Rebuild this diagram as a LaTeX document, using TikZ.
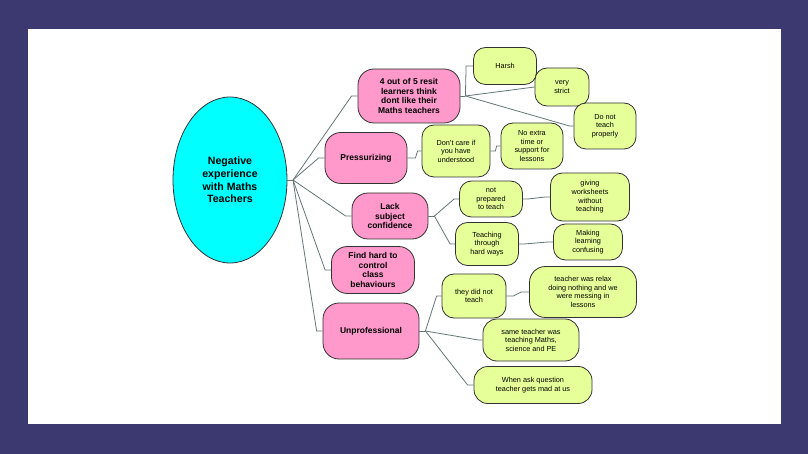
\documentclass[tikz,border=0pt]{standalone}
\usepackage{fontspec}
\setmainfont{Liberation Sans}
\usetikzlibrary{shapes.geometric}
\definecolor{navy}{RGB}{59,57,112}
\definecolor{pinkc}{RGB}{255,153,204}
\definecolor{greenc}{RGB}{230,255,153}
\definecolor{cyanc}{RGB}{0,255,255}
\definecolor{linec}{RGB}{100,118,118}
\definecolor{edgec}{RGB}{50,50,50}
\begin{document}
\begin{tikzpicture}[x=1pt,y=-1pt,
  pinkbox/.style={draw=edgec, line width=0.8pt, fill=pinkc, rounded corners=16pt, font=\bfseries\fontsize{8.5}{9.8}\selectfont, align=center, inner sep=0pt},
  greenbox/.style={draw=edgec, line width=0.8pt, fill=greenc, rounded corners=12pt, font=\fontsize{7.3}{8.6}\selectfont, align=center, inner sep=0pt},
  conn/.style={draw=linec, line width=0.8pt}]
\fill[navy] (0,0) rectangle (808,454);
\fill[white] (28,29) rectangle (781,424);
\useasboundingbox (0,0) rectangle (808,454);

\node[ellipse, draw=edgec, line width=0.8pt, fill=cyanc, minimum width=114pt, minimum height=166pt, inner sep=0pt, align=center, font=\bfseries\fontsize{10.6}{12.8}\selectfont] (ell) at (230,180) {Negative\\experience\\with Maths\\Teachers};
\coordinate (hub) at (293,180);

\node[pinkbox, minimum width=102pt, minimum height=54pt] (p1) at (409,96) {4 out of 5 resit\\learners think\\dont like their\\Maths teachers};
\node[pinkbox, minimum width=82pt, minimum height=51pt] (p2) at (366,158) {Pressurizing};
\node[pinkbox, minimum width=76pt, minimum height=46pt] (p3) at (390,216) {Lack\\subject\\confidence};
\node[pinkbox, minimum width=83pt, minimum height=47pt] (p4) at (373,270) {Find hard to\\control\\class\\behaviours};
\node[pinkbox, minimum width=96pt, minimum height=56pt] (p5) at (371,331) {Unprofessional};

\node[greenbox, minimum width=63pt, minimum height=37pt] (harsh) at (505,66) {Harsh};
\node[greenbox, minimum width=54pt, minimum height=38pt] (vs) at (562,87) {very\\strict};
\node[greenbox, minimum width=62pt, minimum height=46pt] (dn) at (605,126) {Do not\\teach\\properly};
\node[greenbox, minimum width=68pt, minimum height=52pt] (dc) at (456,151) {Don't care if\\you have\\understood};
\node[greenbox, minimum width=62pt, minimum height=46pt] (ne) at (532,146) {No extra\\time or\\support for\\lessons};
\node[greenbox, minimum width=63pt, minimum height=36pt] (np) at (491,199) {not\\prepared\\to teach};
\node[greenbox, minimum width=79pt, minimum height=48pt] (gw) at (590,197) {giving\\worksheets\\without\\teaching};
\node[greenbox, minimum width=63pt, minimum height=43pt] (th) at (487,244) {Teaching\\through\\hard ways};
\node[greenbox, minimum width=69pt, minimum height=36pt] (ml) at (588,242) {Making\\learning\\confusing};
\node[greenbox, minimum width=64pt, minimum height=44pt] (td) at (474,296) {they did not\\teach};
\node[greenbox, minimum width=107pt, minimum height=51pt, rounded corners=16pt] (tr) at (583,292) {teacher was relax\\doing nothing and we\\were messing in\\lessons};
\node[greenbox, minimum width=96pt, minimum height=42pt, rounded corners=14pt] (st) at (531,340) {same teacher was\\teaching Maths,\\science and PE};
\node[greenbox, minimum width=118pt, minimum height=37pt, rounded corners=14pt] (wa) at (533,385) {When ask question\\teacher gets mad at us};

% centre to first level
\draw[conn] (ell.east) -- (hub);
\foreach \n in {p1,p2,p3,p4,p5}{
  \draw[conn] (hub) -- ([xshift=-6pt]\n.west) -- (\n.west);
}

% 4 out of 5
\coordinate (h1) at ([xshift=5pt]p1.east);
\draw[conn] (p1.east) -- (h1);
\draw[conn] (h1) -- ([xshift=-7pt]harsh.west) -- (harsh.west);
\draw[conn] (h1) -- (vs.west);
\draw[conn] (h1) -- ([xshift=-4pt]dn.west) -- (dn.west);

% Pressurizing
\draw[conn] (p2.east) -- ++(8,0) -- ([xshift=-4pt]dc.west) -- (dc.west);
\draw[conn] (dc.east) -- ++(5,0) -- ([xshift=-4pt]ne.west) -- (ne.west);

% Lack subject confidence
\coordinate (h3) at ([xshift=6pt]p3.east);
\draw[conn] (p3.east) -- (h3);
\draw[conn] (h3) -- ([xshift=-5pt]np.west) -- (np.west);
\draw[conn] (h3) -- ([xshift=-5pt]th.west) -- (th.west);
\draw[conn] (np.east) -- ++(5,0) -- ([xshift=-5pt]gw.west) -- (gw.west);
\draw[conn] (th.east) -- ++(5,0) -- ([xshift=-5pt]ml.west) -- (ml.west);

% Unprofessional
\coordinate (h5) at ([xshift=6pt]p5.east);
\draw[conn] (p5.east) -- (h5);
\draw[conn] (h5) -- ([xshift=-5pt]td.west) -- (td.west);
\draw[conn] (h5) -- ([xshift=-4pt]st.west) -- (st.west);
\draw[conn] (h5) -- ([xshift=-6pt]wa.west) -- (wa.west);
\draw[conn] (td.east) -- ++(7,0) -- ([xshift=-8pt]tr.west) -- (tr.west);
\end{tikzpicture}
\end{document}
